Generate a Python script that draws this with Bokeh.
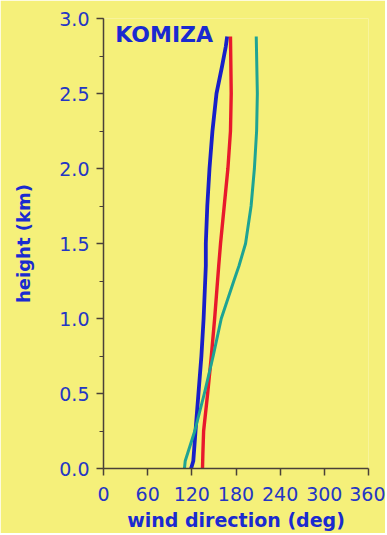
from bokeh.plotting import figure
from bokeh.models import SingleIntervalTicker, PrintfTickFormatter, Range1d, Label
from bokeh.embed import file_html
from bokeh.resources import INLINE

# Data (height in km, wind direction in degrees)
blue_height = [0.0, 0.05, 0.25, 0.5, 0.75, 1.0, 1.35, 1.5, 1.75, 2.0, 2.25, 2.5, 2.68, 2.81, 2.88]
blue_dir = [119, 122, 125, 129, 133, 136, 139, 139, 141, 144, 148, 153.5, 161, 166, 168]

red_height = [0.0, 0.1, 0.25, 0.5, 0.75, 1.0, 1.35, 1.5, 1.75, 2.0, 2.25, 2.5, 2.88]
red_dir = [134.5, 135, 136, 141.5, 146.5, 151, 156.5, 159, 164, 169, 172.5, 173.5, 172.5]

teal_height = [0.0, 0.05, 0.25, 0.5, 0.75, 1.0, 1.25, 1.35, 1.5, 1.75, 2.0, 2.25, 2.5, 2.88]
teal_dir = [110, 111, 124, 137, 149, 160, 177, 184, 193, 200.5, 205, 208, 209, 207.5]

x_ticks_interval = 60
y_ticks_interval = 0.5
station = "KOMIZA"

BG = "#f5f07a"
TEXT_BLUE = "#2436c4"
LABEL_BLUE = "#1a2ad0"
AXIS_COL = "#4a4038"

p = figure(width=385, height=533, output_backend="svg", toolbar_location=None,
           x_range=Range1d(0, 360), y_range=Range1d(0, 3.0),
           min_border_left=103, min_border_right=17, min_border_top=18, min_border_bottom=65)
p.background_fill_color = BG
p.border_fill_color = BG
p.outline_line_color = None
p.grid.visible = False

p.line(blue_dir, blue_height, line_color="#1820c8", line_width=3.8, line_join="round")
p.line(red_dir, red_height, line_color="#e8192c", line_width=3.4, line_join="round")
p.line(teal_dir, teal_height, line_color="#1ea394", line_width=3.0, line_join="round")

p.add_layout(Label(x=16, y=2.81, text=station, text_font="DejaVu Sans",
                   text_font_style="bold", text_font_size="22px", text_color=LABEL_BLUE))

xa = p.xaxis[0]
xa.ticker = SingleIntervalTicker(interval=x_ticks_interval, num_minor_ticks=0)
xa.axis_label = "wind direction (deg)"
ya = p.yaxis[0]
ya.ticker = SingleIntervalTicker(interval=y_ticks_interval, num_minor_ticks=2)
ya.formatter = PrintfTickFormatter(format="%.1f")
ya.axis_label = "height (km)"

for ax in (xa, ya):
    ax.axis_line_color = AXIS_COL
    ax.axis_line_width = 1.5
    ax.major_tick_line_color = AXIS_COL
    ax.major_tick_line_width = 1.5
    ax.minor_tick_line_color = AXIS_COL
    ax.major_tick_in = 0
    ax.major_tick_out = 7
    ax.minor_tick_in = 0
    ax.minor_tick_out = 4
    ax.major_label_text_font = "DejaVu Sans"
    ax.major_label_text_font_size = "19px"
    ax.major_label_text_color = TEXT_BLUE
    ax.axis_label_text_font = "DejaVu Sans"
    ax.axis_label_text_font_style = "bold"
    ax.axis_label_text_color = LABEL_BLUE

xa.major_label_standoff = 11
xa.axis_label_standoff = 5
xa.axis_label_text_font_size = "19px"
ya.major_label_standoff = 7
ya.axis_label_standoff = 22
ya.axis_label_text_font_size = "18px"

open("out.html", "w").write(file_html(p, INLINE))
